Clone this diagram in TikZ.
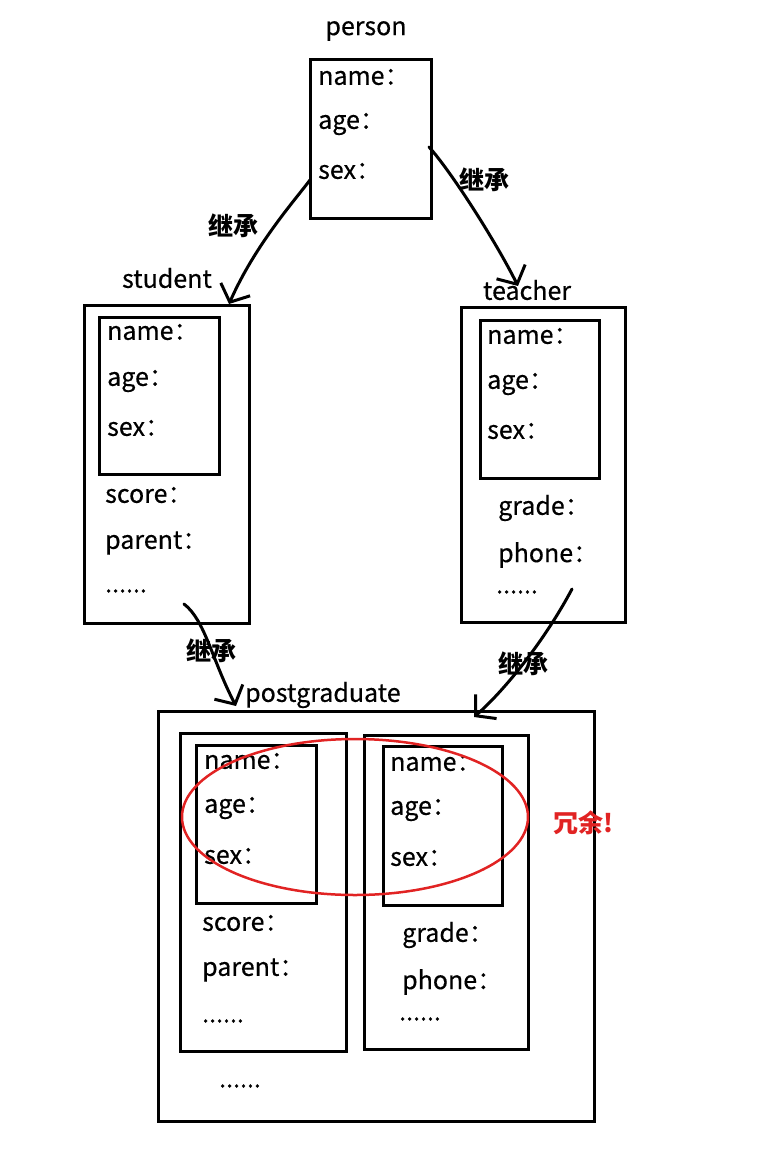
\documentclass[tikz,border=0pt]{standalone}
\usepackage{fontspec}
\setmainfont{Noto Sans CJK SC}
\newfontfamily\medfont{Noto Sans CJK SC}[FakeBold=0.4]
\usetikzlibrary{arrows.meta}
\definecolor{redmark}{RGB}{225,35,35}
\begin{document}
\begin{tikzpicture}[x=1pt,y=-1pt,
  box/.style={draw=black,line width=3pt},
  fld/.style={anchor=west,inner sep=0pt,font=\medfont\fontsize{25}{27}\selectfont},
  ttl/.style={anchor=center,inner sep=0pt,font=\medfont\fontsize{25}{27}\selectfont},
  lbl/.style={anchor=center,inner sep=0pt,font=\fontsize{25}{27}\selectfont\bfseries},
  inh/.style={line width=3pt,line cap=round,line join=round,-{Straight Barb[length=14pt,width=32pt,line width=3pt]}}]
\useasboundingbox (0,0) rectangle (771,1156);
% person
\draw[box] (310,60) rectangle (431,218);
\node[ttl] (person) at (366,31) {person};
\node[fld] (pn) at (318,77) {name：};
\node[fld] (pa) at (318,124) {age：};
\node[fld] (ps) at (318,171) {sex：};
% student
\draw[box] (84,305) rectangle (249,623);
\draw[box] (99,317) rectangle (219,474);
\node[ttl] (student) at (167,278) {student};
\node[fld] (sn) at (107,332) {name：};
\node[fld] (sa) at (107,381) {age：};
\node[fld] (ss) at (107,428) {sex：};
\node[fld] (ssc) at (105,495) {score：};
\node[fld] (spa) at (105,543) {parent：};
\node[fld] (sd) at (105,591) {......};
% teacher
\draw[box] (461,307) rectangle (625,622);
\draw[box] (480,320) rectangle (599,478);
\node[ttl] (teacher) at (527,290) {teacher};
\node[fld] (tn) at (487,336) {name：};
\node[fld] (ta) at (487,384) {age：};
\node[fld] (ts) at (487,431) {sex：};
\node[fld] (tg) at (498,508) {grade：};
\node[fld] (tp) at (498,555) {phone：};
\node[fld] (td) at (496,592) {......};
% postgraduate
\draw[box] (158,711) rectangle (594,1121);
\node[fld] (post) at (245,695) {postgraduate};
\draw[box] (180,733) rectangle (346,1051);
\draw[box] (196,745) rectangle (316,903);
\node[fld] (qn) at (204,761) {name：};
\node[fld] (qa) at (204,808) {age：};
\node[fld] (qs) at (204,856) {sex：};
\node[fld] (qsc) at (202,923) {score：};
\node[fld] (qpa) at (202,970) {parent：};
\node[fld] (qd) at (202,1021) {......};
\draw[box] (364,735) rectangle (528,1049);
\draw[box] (383,746) rectangle (502,905);
\node[fld] (rn) at (390,763) {name：};
\node[fld] (ra) at (390,810) {age：};
\node[fld] (rs) at (390,858) {sex：};
\node[fld] (rg) at (402,935) {grade：};
\node[fld] (rp) at (402,982) {phone：};
\node[fld] (rd) at (399,1019) {......};
\node[fld] (pd) at (219,1086) {......};
% redundancy
\draw[redmark,line width=2.5pt] (355,817) ellipse [x radius=173,y radius=78];
\node[lbl,text=redmark] (red) at (583,823) {冗余!};
% inheritance arrows
\coordinate (a1s) at (310,180);
\coordinate (a1e) at (229,304);
\coordinate (a2s) at (429,147);
\coordinate (a2e) at (518,286);
\coordinate (a3s) at (184,604);
\coordinate (a3e) at (236,706);
\coordinate (a4s) at (572,589);
\coordinate (a4e) at (474,717);
\draw[inh] (a1s) .. controls (295,200) and (255,245) .. (a1e);
\draw[inh] (a2s) .. controls (450,170) and (495,240) .. (a2e);
\draw[inh] (a3s) .. controls (205,620) and (212,660) .. (a3e);
\draw[inh] (a4s) .. controls (545,640) and (505,690) .. (a4e);
\node[lbl] (l1) at (233,226) {继承};
\node[lbl] (l2) at (484,180) {继承};
\node[lbl] (l3) at (211,651) {继承};
\node[lbl] (l4) at (523,664) {继承};
\end{tikzpicture}
\end{document}
